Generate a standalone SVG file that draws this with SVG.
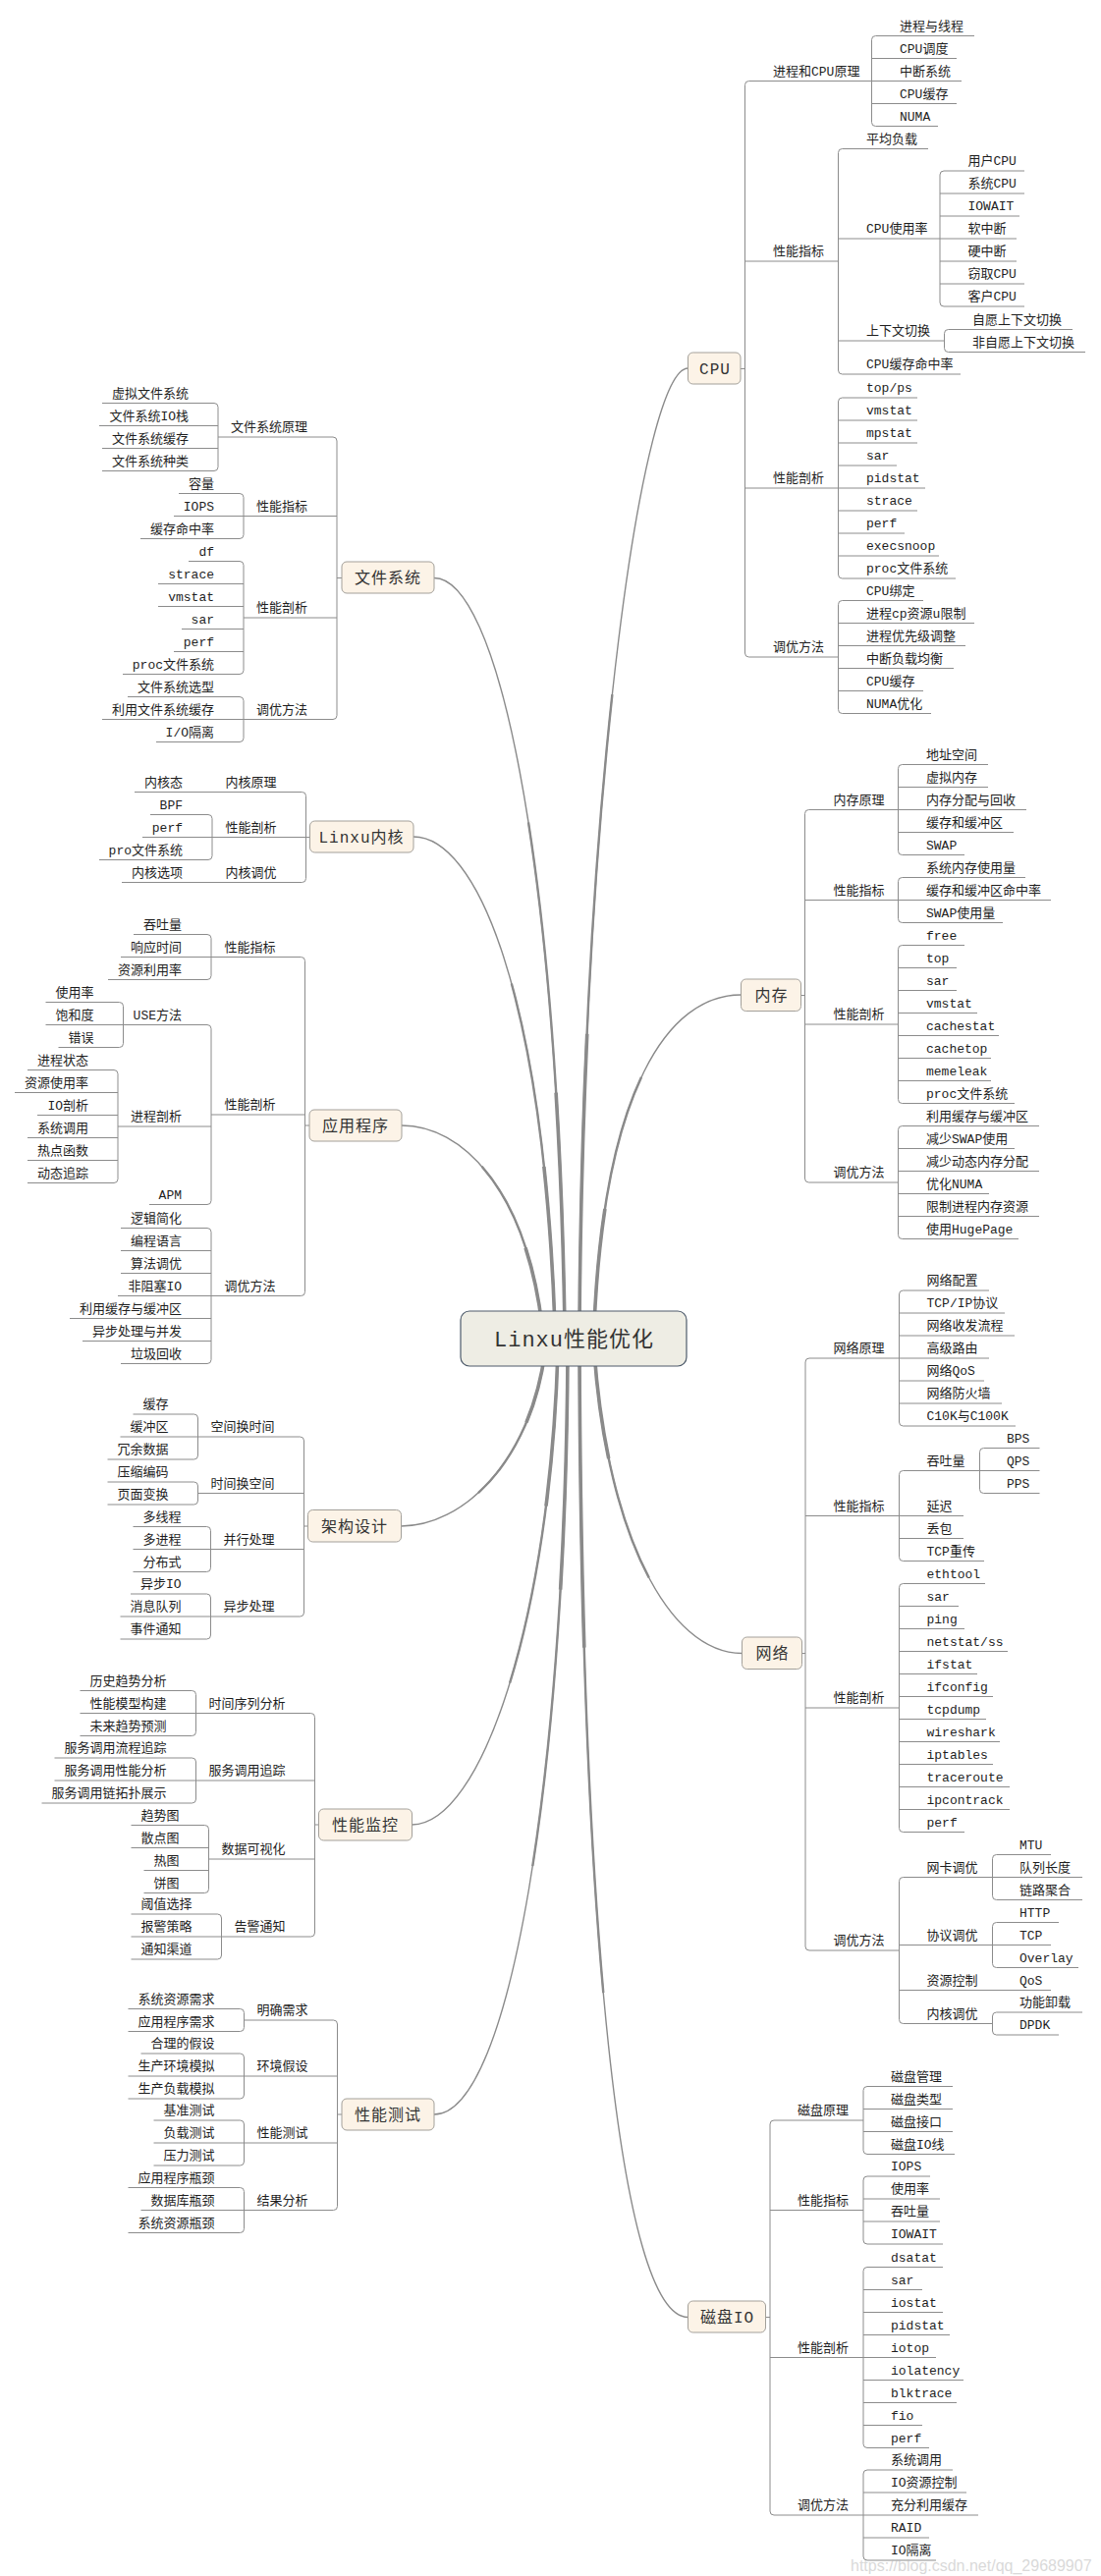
<svg xmlns="http://www.w3.org/2000/svg" width="1121" height="2623" viewBox="0 0 1121 2623">
<style>
text{font-family:"Liberation Mono","Noto Sans CJK SC",monospace;fill:#1e1e1e}
.t{font-size:13px}
.e{text-anchor:end}
.mt{font-size:16px;text-anchor:middle;letter-spacing:1px;fill:#333}
.mb{fill:#fcf3e7;stroke:#a3a09a;stroke-width:1}
.rb{fill:#eeede4;stroke:#4e5b6b;stroke-width:1.2}
.rt{font-size:22px;text-anchor:middle;letter-spacing:1px;fill:#333}
.ln{fill:none;stroke:#8c8c8c;stroke-width:1}
.cA{fill:none;stroke:#8a8a8a;stroke-width:1.4}
.cB{fill:none;stroke:#8a8a8a;stroke-width:2.4;stroke-dasharray:0 35 65}
.cC{fill:none;stroke:#8a8a8a;stroke-width:3.6;stroke-dasharray:0 70 30}
.wm{font-family:"Liberation Sans",sans-serif;font-size:16px;fill:#bbb;opacity:.55}
</style>
<defs>
<path id="cv-fs" pathLength="100" d="M 442 588.5 C 505 588.5, 567 860, 575 1350"/>
<path id="cv-kn" pathLength="100" d="M 421 852 C 485 852, 553 1010, 565 1350"/>
<path id="cv-app" pathLength="100" d="M 409 1146 C 470 1146, 535 1210, 552 1350"/>
<path id="cv-cpu" pathLength="100" d="M 700.5 375 C 655 375, 594 790, 590 1350"/>
<path id="cv-mem" pathLength="100" d="M 754.5 1013 C 680 1013, 615 1110, 605 1350"/>
<path id="cv-arch" pathLength="100" d="M 408.5 1554 C 470 1554, 540 1490, 555 1376"/>
<path id="cv-mon" pathLength="100" d="M 419.5 1858 C 490 1858, 560 1650, 568 1376"/>
<path id="cv-test" pathLength="100" d="M 442 2153 C 520 2153, 576 1800, 578 1376"/>
<path id="cv-net" pathLength="100" d="M 755.5 1683.5 C 680 1683.5, 618 1560, 605 1376"/>
<path id="cv-disk" pathLength="100" d="M 700.5 2359.5 C 630 2359.5, 592 1950, 590 1376"/>
</defs>
<rect width="1121" height="2623" fill="#fff"/>

<g id="connectors">
<g id="main-curves">
<use href="#cv-fs" class="cA"/><use href="#cv-fs" class="cB"/><use href="#cv-fs" class="cC"/>
<use href="#cv-kn" class="cA"/><use href="#cv-kn" class="cB"/><use href="#cv-kn" class="cC"/>
<use href="#cv-app" class="cA"/><use href="#cv-app" class="cB"/><use href="#cv-app" class="cC"/>
<use href="#cv-cpu" class="cA"/><use href="#cv-cpu" class="cB"/><use href="#cv-cpu" class="cC"/>
<use href="#cv-mem" class="cA"/><use href="#cv-mem" class="cB"/><use href="#cv-mem" class="cC"/>
<use href="#cv-arch" class="cA"/><use href="#cv-arch" class="cB"/><use href="#cv-arch" class="cC"/>
<use href="#cv-mon" class="cA"/><use href="#cv-mon" class="cB"/><use href="#cv-mon" class="cC"/>
<use href="#cv-test" class="cA"/><use href="#cv-test" class="cB"/><use href="#cv-test" class="cC"/>
<use href="#cv-net" class="cA"/><use href="#cv-net" class="cB"/><use href="#cv-net" class="cC"/>
<use href="#cv-disk" class="cA"/><use href="#cv-disk" class="cB"/><use href="#cv-disk" class="cC"/>
</g>
<g id="tree-lines" class="ln">
<path d="M 222 445 H 339 Q 343 445 343 449 V 728.5 Q 343 732.5 339 732.5 H 248 M 248 525.5 H 343 M 248 629 H 343 M 343 588.5 H 348"/>
<path d="M 104 410.5 H 218 Q 222 410.5 222 414.5 V 475.5 Q 222 479.5 218 479.5 H 104 M 101 433.5 H 222 M 104 456.5 H 222"/>
<path d="M 182 502.5 H 244 Q 248 502.5 248 506.5 V 544.5 Q 248 548.5 244 548.5 H 143 M 177 525.5 H 248"/>
<path d="M 192 571.5 H 244 Q 248 571.5 248 575.5 V 682.5 Q 248 686.5 244 686.5 H 125 M 161 594.5 H 248 M 161 617.5 H 248 M 185 640.5 H 248 M 177 663.5 H 248"/>
<path d="M 130 709.5 H 244 Q 248 709.5 248 713.5 V 751.5 Q 248 755.5 244 755.5 H 159 M 104 732.5 H 248"/>
<path d="M 137 806.5 H 307.5 Q 311.5 806.5 311.5 810.5 V 894.5 Q 311.5 898.5 307.5 898.5 H 124 M 216 852.5 H 315.5"/>
<path d="M 153 829.5 H 212 Q 216 829.5 216 833.5 V 871.5 Q 216 875.5 212 875.5 H 101 M 145 852.5 H 216"/>
<path d="M 215 974.5 H 306.5 Q 310.5 974.5 310.5 978.5 V 1315.5 Q 310.5 1319.5 306.5 1319.5 H 215 M 215 1135 H 310.5 M 310.5 1146 H 315"/>
<path d="M 136 951.5 H 211 Q 215 951.5 215 955.5 V 993.5 Q 215 997.5 211 997.5 H 110 M 123 974.5 H 215"/>
<path d="M 125.5 1043.5 H 211 Q 215 1043.5 215 1047.5 V 1222.5 Q 215 1226.5 211 1226.5 H 152 M 120 1147 H 215"/>
<path d="M 46.5 1020.5 H 121.5 Q 125.5 1020.5 125.5 1024.5 V 1062.5 Q 125.5 1066.5 121.5 1066.5 H 59.5 M 46.5 1043.5 H 125.5"/>
<path d="M 28 1089.5 H 116 Q 120 1089.5 120 1093.5 V 1200.5 Q 120 1204.5 116 1204.5 H 28 M 15 1112.5 H 120 M 38 1135.5 H 120 M 28 1158.5 H 120 M 28 1181.5 H 120"/>
<path d="M 123 1250.5 H 211 Q 215 1250.5 215 1254.5 V 1384.5 Q 215 1388.5 211 1388.5 H 123 M 123 1273.5 H 215 M 123 1296.5 H 215 M 120 1319.5 H 215 M 71 1342.5 H 215 M 84 1365.5 H 215"/>
<path d="M 201.5 1463 H 305.5 Q 309.5 1463 309.5 1467 V 1642 Q 309.5 1646 305.5 1646 H 214.5 M 201.5 1520.5 H 309.5 M 214.5 1577.5 H 309.5 M 309.5 1554 H 313.5"/>
<path d="M 135.5 1440 H 197.5 Q 201.5 1440 201.5 1444 V 1482 Q 201.5 1486 197.5 1486 H 109.5 M 122.5 1463 H 201.5"/>
<path d="M 109.5 1509 H 197.5 Q 201.5 1509 201.5 1513 V 1528 Q 201.5 1532 197.5 1532 H 109.5"/>
<path d="M 135.5 1554.5 H 210.5 Q 214.5 1554.5 214.5 1558.5 V 1596.5 Q 214.5 1600.5 210.5 1600.5 H 135.5 M 135.5 1577.5 H 214.5"/>
<path d="M 133 1623 H 210.5 Q 214.5 1623 214.5 1627 V 1665 Q 214.5 1669 210.5 1669 H 122.5 M 122.5 1646 H 214.5"/>
<path d="M 199.5 1744.5 H 316.5 Q 320.5 1744.5 320.5 1748.5 V 1968 Q 320.5 1972 316.5 1972 H 225.5 M 199.5 1813 H 320.5 M 212.5 1893 H 320.5 M 320.5 1858 H 324.5"/>
<path d="M 81.5 1721.5 H 195.5 Q 199.5 1721.5 199.5 1725.5 V 1763.5 Q 199.5 1767.5 195.5 1767.5 H 81.5 M 81.5 1744.5 H 199.5"/>
<path d="M 55.5 1790 H 195.5 Q 199.5 1790 199.5 1794 V 1832 Q 199.5 1836 195.5 1836 H 42.5 M 55.5 1813 H 199.5"/>
<path d="M 133.5 1858.5 H 208.5 Q 212.5 1858.5 212.5 1862.5 V 1923.5 Q 212.5 1927.5 208.5 1927.5 H 146.5 M 133.5 1881.5 H 212.5 M 146.5 1904.5 H 212.5"/>
<path d="M 133.5 1949 H 221.5 Q 225.5 1949 225.5 1953 V 1991 Q 225.5 1995 221.5 1995 H 133.5 M 133.5 1972 H 225.5"/>
<path d="M 248.5 2057 H 339.5 Q 343.5 2057 343.5 2061 V 2246.5 Q 343.5 2250.5 339.5 2250.5 H 248.5 M 248.5 2114 H 343.5 M 248.5 2182 H 343.5 M 343.5 2153 H 348"/>
<path d="M 130.5 2045.5 H 244.5 Q 248.5 2045.5 248.5 2049.5 V 2064.5 Q 248.5 2068.5 244.5 2068.5 H 130.5"/>
<path d="M 143.5 2091 H 244.5 Q 248.5 2091 248.5 2095 V 2133 Q 248.5 2137 244.5 2137 H 130.5 M 130.5 2114 H 248.5"/>
<path d="M 156.5 2159 H 244.5 Q 248.5 2159 248.5 2163 V 2201 Q 248.5 2205 244.5 2205 H 156.5 M 156.5 2182 H 248.5"/>
<path d="M 130.5 2227.5 H 244.5 Q 248.5 2227.5 248.5 2231.5 V 2269.5 Q 248.5 2273.5 244.5 2273.5 H 130.5 M 143.5 2250.5 H 248.5"/>
<path d="M 887.5 82.5 H 762.5 Q 758.5 82.5 758.5 86.5 V 665 Q 758.5 669 762.5 669 H 853.5 M 758.5 266 H 853.5 M 758.5 497 H 853.5 M 754 375.5 H 758.5"/>
<path d="M 992 36.5 H 891.5 Q 887.5 36.5 887.5 40.5 V 124.5 Q 887.5 128.5 891.5 128.5 H 955 M 887.5 59.5 H 974 M 887.5 82.5 H 979 M 887.5 105.5 H 974"/>
<path d="M 945 151.5 H 857.5 Q 853.5 151.5 853.5 155.5 V 377 Q 853.5 381 857.5 381 H 978 M 853.5 243 H 957 M 853.5 347 H 961.5"/>
<path d="M 1043 174 H 961 Q 957 174 957 178 V 308 Q 957 312 961 312 H 1043 M 957 197 H 1043 M 957 220 H 1038 M 957 243 H 1035 M 957 266 H 1035 M 957 289 H 1043"/>
<path d="M 1092 335.5 H 965.5 Q 961.5 335.5 961.5 339.5 V 354.5 Q 961.5 358.5 965.5 358.5 H 1105"/>
<path d="M 934 405 H 857.5 Q 853.5 405 853.5 409 V 585 Q 853.5 589 857.5 589 H 973 M 853.5 428 H 934 M 853.5 451 H 934 M 853.5 474 H 913 M 853.5 497 H 942 M 853.5 520 H 934 M 853.5 543 H 921 M 853.5 566 H 956"/>
<path d="M 940 611.5 H 857.5 Q 853.5 611.5 853.5 615.5 V 722.5 Q 853.5 726.5 857.5 726.5 H 948 M 853.5 634.5 H 992 M 853.5 657.5 H 983 M 853.5 680.5 H 971 M 853.5 703.5 H 940"/>
<path d="M 914.5 824.5 H 823.5 Q 819.5 824.5 819.5 828.5 V 1200 Q 819.5 1204 823.5 1204 H 914.5 M 819.5 916.5 H 914.5 M 819.5 1043 H 914.5 M 815.5 1013.5 H 819.5"/>
<path d="M 1006 778.5 H 918.5 Q 914.5 778.5 914.5 782.5 V 866.5 Q 914.5 870.5 918.5 870.5 H 982 M 914.5 801.5 H 1006 M 914.5 824.5 H 1045 M 914.5 847.5 H 1032"/>
<path d="M 1044 893.5 H 918.5 Q 914.5 893.5 914.5 897.5 V 935.5 Q 914.5 939.5 918.5 939.5 H 1021 M 914.5 916.5 H 1070"/>
<path d="M 982 962.5 H 918.5 Q 914.5 962.5 914.5 966.5 V 1119.5 Q 914.5 1123.5 918.5 1123.5 H 1033 M 914.5 985.5 H 974 M 914.5 1008.5 H 974 M 914.5 1031.5 H 995 M 914.5 1054.5 H 1017 M 914.5 1077.5 H 1009 M 914.5 1100.5 H 1009"/>
<path d="M 1058 1146.5 H 918.5 Q 914.5 1146.5 914.5 1150.5 V 1257.5 Q 914.5 1261.5 918.5 1261.5 H 1037 M 914.5 1169.5 H 1033 M 914.5 1192.5 H 1058 M 914.5 1215.5 H 1007 M 914.5 1238.5 H 1058"/>
<path d="M 915.5 1383 H 824 Q 820 1383 820 1387 V 1982 Q 820 1986 824 1986 H 915.5 M 820 1543.5 H 915.5 M 820 1739 H 915.5 M 816.5 1683.5 H 820"/>
<path d="M 1007 1314 H 919.5 Q 915.5 1314 915.5 1318 V 1448 Q 915.5 1452 919.5 1452 H 1034 M 915.5 1337 H 1023 M 915.5 1360 H 1033 M 915.5 1383 H 1007 M 915.5 1406 H 1002 M 915.5 1429 H 1020"/>
<path d="M 997.5 1497.5 H 919.5 Q 915.5 1497.5 915.5 1501.5 V 1585.5 Q 915.5 1589.5 919.5 1589.5 H 1002 M 915.5 1543.5 H 981 M 915.5 1566.5 H 981"/>
<path d="M 1058.5 1474.5 H 1001.5 Q 997.5 1474.5 997.5 1478.5 V 1516.5 Q 997.5 1520.5 1001.5 1520.5 H 1058.5 M 997.5 1497.5 H 1058.5"/>
<path d="M 1003 1612.5 H 919.5 Q 915.5 1612.5 915.5 1616.5 V 1861.5 Q 915.5 1865.5 919.5 1865.5 H 982 M 915.5 1635.5 H 976 M 915.5 1658.5 H 982 M 915.5 1681.5 H 1026 M 915.5 1704.5 H 995 M 915.5 1727.5 H 1011 M 915.5 1750.5 H 1004 M 915.5 1773.5 H 1018 M 915.5 1796.5 H 1011 M 915.5 1819.5 H 1028 M 915.5 1842.5 H 1028"/>
<path d="M 1010.5 1911.5 H 919.5 Q 915.5 1911.5 915.5 1915.5 V 2056.5 Q 915.5 2060.5 919.5 2060.5 H 1010.5 M 915.5 1980.5 H 1010.5 M 915.5 2026.5 H 1070"/>
<path d="M 1070 1888.5 H 1014.5 Q 1010.5 1888.5 1010.5 1892.5 V 1930.5 Q 1010.5 1934.5 1014.5 1934.5 H 1102 M 1010.5 1911.5 H 1102"/>
<path d="M 1078 1957.5 H 1014.5 Q 1010.5 1957.5 1010.5 1961.5 V 1999.5 Q 1010.5 2003.5 1014.5 2003.5 H 1098 M 1010.5 1980.5 H 1070"/>
<path d="M 1102 2049 H 1014.5 Q 1010.5 2049 1010.5 2053 V 2068 Q 1010.5 2072 1014.5 2072 H 1078"/>
<path d="M 879 2159 H 788 Q 784 2159 784 2163 V 2557 Q 784 2561 788 2561 H 879 M 784 2250.5 H 879 M 784 2400.5 H 879 M 779.5 2359.5 H 784"/>
<path d="M 970 2124.5 H 883 Q 879 2124.5 879 2128.5 V 2189.5 Q 879 2193.5 883 2193.5 H 972 M 879 2147.5 H 970 M 879 2170.5 H 970"/>
<path d="M 947 2216 H 883 Q 879 2216 879 2220 V 2281 Q 879 2285 883 2285 H 960 M 879 2239 H 957 M 879 2262 H 957"/>
<path d="M 960 2308.5 H 883 Q 879 2308.5 879 2312.5 V 2488.5 Q 879 2492.5 883 2492.5 H 946 M 879 2331.5 H 939 M 879 2354.5 H 960 M 879 2377.5 H 967 M 879 2400.5 H 953 M 879 2423.5 H 981 M 879 2446.5 H 974 M 879 2469.5 H 939"/>
<path d="M 970 2515 H 883 Q 879 2515 879 2519 V 2603 Q 879 2607 883 2607 H 953 M 879 2538 H 984 M 879 2561 H 996 M 879 2584 H 946"/>
</g>
</g>

<g id="m-fs"><rect class="mb" x="348" y="572" width="94" height="32" rx="5"/><text class="mt" x="395" y="594">文件系统</text></g>
<g id="fs-1"><text class="t e" x="313" y="439">文件系统原理</text></g>
<g id="fs-1-1"><text class="t e" x="192" y="404.5">虚拟文件系统</text></g>
<g id="fs-1-2"><text class="t e" x="192" y="427.5">文件系统IO栈</text></g>
<g id="fs-1-3"><text class="t e" x="192" y="450.5">文件系统缓存</text></g>
<g id="fs-1-4"><text class="t e" x="192" y="473.5">文件系统种类</text></g>
<g id="fs-2"><text class="t e" x="313" y="519.5">性能指标</text></g>
<g id="fs-2-1"><text class="t e" x="218" y="496.5">容量</text></g>
<g id="fs-2-2"><text class="t e" x="218" y="519.5">IOPS</text></g>
<g id="fs-2-3"><text class="t e" x="218" y="542.5">缓存命中率</text></g>
<g id="fs-3"><text class="t e" x="313" y="623">性能剖析</text></g>
<g id="fs-3-1"><text class="t e" x="218" y="565.5">df</text></g>
<g id="fs-3-2"><text class="t e" x="218" y="588.5">strace</text></g>
<g id="fs-3-3"><text class="t e" x="218" y="611.5">vmstat</text></g>
<g id="fs-3-4"><text class="t e" x="218" y="634.5">sar</text></g>
<g id="fs-3-5"><text class="t e" x="218" y="657.5">perf</text></g>
<g id="fs-3-6"><text class="t e" x="218" y="680.5">proc文件系统</text></g>
<g id="fs-4"><text class="t e" x="313" y="726.5">调优方法</text></g>
<g id="fs-4-1"><text class="t e" x="218" y="703.5">文件系统选型</text></g>
<g id="fs-4-2"><text class="t e" x="218" y="726.5">利用文件系统缓存</text></g>
<g id="fs-4-3"><text class="t e" x="218" y="749.5">I/O隔离</text></g>

<g id="m-kn"><rect class="mb" x="315.5" y="836" width="105.5" height="32" rx="5"/><text class="mt" x="368" y="858">Linxu内核</text></g>
<g id="kn-1"><text class="t e" x="281.5" y="800.5">内核原理</text></g>
<g id="kn-1-1"><text class="t e" x="186" y="800.5">内核态</text></g>
<g id="kn-2"><text class="t e" x="281.5" y="846.5">性能剖析</text></g>
<g id="kn-2-1"><text class="t e" x="186" y="823.5">BPF</text></g>
<g id="kn-2-2"><text class="t e" x="186" y="846.5">perf</text></g>
<g id="kn-2-3"><text class="t e" x="186" y="869.5">pro文件系统</text></g>
<g id="kn-3"><text class="t e" x="281.5" y="892.5">内核调优</text></g>
<g id="kn-3-1"><text class="t e" x="186" y="892.5">内核选项</text></g>

<g id="m-app"><rect class="mb" x="315" y="1130" width="94" height="32" rx="5"/><text class="mt" x="362" y="1152">应用程序</text></g>
<g id="app-1"><text class="t e" x="280.5" y="968.5">性能指标</text></g>
<g id="app-1-1"><text class="t e" x="185" y="945.5">吞吐量</text></g>
<g id="app-1-2"><text class="t e" x="185" y="968.5">响应时间</text></g>
<g id="app-1-3"><text class="t e" x="185" y="991.5">资源利用率</text></g>
<g id="app-2"><text class="t e" x="280.5" y="1129">性能剖析</text></g>
<g id="app-2-1"><text class="t e" x="185" y="1037.5">USE方法</text></g>
<g id="app-2-1-1"><text class="t e" x="95.5" y="1014.5">使用率</text></g>
<g id="app-2-1-2"><text class="t e" x="95.5" y="1037.5">饱和度</text></g>
<g id="app-2-1-3"><text class="t e" x="95.5" y="1060.5">错误</text></g>
<g id="app-2-2"><text class="t e" x="185" y="1141">进程剖析</text></g>
<g id="app-2-2-1"><text class="t e" x="90" y="1083.5">进程状态</text></g>
<g id="app-2-2-2"><text class="t e" x="90" y="1106.5">资源使用率</text></g>
<g id="app-2-2-3"><text class="t e" x="90" y="1129.5">IO剖析</text></g>
<g id="app-2-2-4"><text class="t e" x="90" y="1152.5">系统调用</text></g>
<g id="app-2-2-5"><text class="t e" x="90" y="1175.5">热点函数</text></g>
<g id="app-2-2-6"><text class="t e" x="90" y="1198.5">动态追踪</text></g>
<g id="app-2-3"><text class="t e" x="185" y="1220.5">APM</text></g>
<g id="app-3"><text class="t e" x="280.5" y="1313.5">调优方法</text></g>
<g id="app-3-1"><text class="t e" x="185" y="1244.5">逻辑简化</text></g>
<g id="app-3-2"><text class="t e" x="185" y="1267.5">编程语言</text></g>
<g id="app-3-3"><text class="t e" x="185" y="1290.5">算法调优</text></g>
<g id="app-3-4"><text class="t e" x="185" y="1313.5">非阻塞IO</text></g>
<g id="app-3-5"><text class="t e" x="185" y="1336.5">利用缓存与缓冲区</text></g>
<g id="app-3-6"><text class="t e" x="185" y="1359.5">异步处理与并发</text></g>
<g id="app-3-7"><text class="t e" x="185" y="1382.5">垃圾回收</text></g>

<g id="m-arch"><rect class="mb" x="313.5" y="1537.5" width="95" height="32.5" rx="5"/><text class="mt" x="361" y="1559.5">架构设计</text></g>
<g id="arch-1"><text class="t e" x="279.5" y="1457">空间换时间</text></g>
<g id="arch-1-1"><text class="t e" x="171.5" y="1434">缓存</text></g>
<g id="arch-1-2"><text class="t e" x="171.5" y="1457">缓冲区</text></g>
<g id="arch-1-3"><text class="t e" x="171.5" y="1480">冗余数据</text></g>
<g id="arch-2"><text class="t e" x="279.5" y="1514.5">时间换空间</text></g>
<g id="arch-2-1"><text class="t e" x="171.5" y="1503">压缩编码</text></g>
<g id="arch-2-2"><text class="t e" x="171.5" y="1526">页面变换</text></g>
<g id="arch-3"><text class="t e" x="279.5" y="1571.5">并行处理</text></g>
<g id="arch-3-1"><text class="t e" x="184.5" y="1548.5">多线程</text></g>
<g id="arch-3-2"><text class="t e" x="184.5" y="1571.5">多进程</text></g>
<g id="arch-3-3"><text class="t e" x="184.5" y="1594.5">分布式</text></g>
<g id="arch-4"><text class="t e" x="279.5" y="1640">异步处理</text></g>
<g id="arch-4-1"><text class="t e" x="184.5" y="1617">异步IO</text></g>
<g id="arch-4-2"><text class="t e" x="184.5" y="1640">消息队列</text></g>
<g id="arch-4-3"><text class="t e" x="184.5" y="1663">事件通知</text></g>

<g id="m-mon"><rect class="mb" x="324.5" y="1842" width="95" height="32" rx="5"/><text class="mt" x="372" y="1864">性能监控</text></g>
<g id="mon-1"><text class="t e" x="290.5" y="1738.5">时间序列分析</text></g>
<g id="mon-1-1"><text class="t e" x="169.5" y="1715.5">历史趋势分析</text></g>
<g id="mon-1-2"><text class="t e" x="169.5" y="1738.5">性能模型构建</text></g>
<g id="mon-1-3"><text class="t e" x="169.5" y="1761.5">未来趋势预测</text></g>
<g id="mon-2"><text class="t e" x="290.5" y="1807">服务调用追踪</text></g>
<g id="mon-2-1"><text class="t e" x="169.5" y="1784">服务调用流程追踪</text></g>
<g id="mon-2-2"><text class="t e" x="169.5" y="1807">服务调用性能分析</text></g>
<g id="mon-2-3"><text class="t e" x="169.5" y="1830">服务调用链拓扑展示</text></g>
<g id="mon-3"><text class="t e" x="290.5" y="1887">数据可视化</text></g>
<g id="mon-3-1"><text class="t e" x="182.5" y="1852.5">趋势图</text></g>
<g id="mon-3-2"><text class="t e" x="182.5" y="1875.5">散点图</text></g>
<g id="mon-3-3"><text class="t e" x="182.5" y="1898.5">热图</text></g>
<g id="mon-3-4"><text class="t e" x="182.5" y="1921.5">饼图</text></g>
<g id="mon-4"><text class="t e" x="290.5" y="1966">告警通知</text></g>
<g id="mon-4-1"><text class="t e" x="195.5" y="1943">阈值选择</text></g>
<g id="mon-4-2"><text class="t e" x="195.5" y="1966">报警策略</text></g>
<g id="mon-4-3"><text class="t e" x="195.5" y="1989">通知渠道</text></g>

<g id="m-test"><rect class="mb" x="348" y="2137" width="94" height="32" rx="5"/><text class="mt" x="395" y="2159">性能测试</text></g>
<g id="test-1"><text class="t e" x="313.5" y="2051">明确需求</text></g>
<g id="test-1-1"><text class="t e" x="218.5" y="2039.5">系统资源需求</text></g>
<g id="test-1-2"><text class="t e" x="218.5" y="2062.5">应用程序需求</text></g>
<g id="test-2"><text class="t e" x="313.5" y="2108">环境假设</text></g>
<g id="test-2-1"><text class="t e" x="218.5" y="2085">合理的假设</text></g>
<g id="test-2-2"><text class="t e" x="218.5" y="2108">生产环境模拟</text></g>
<g id="test-2-3"><text class="t e" x="218.5" y="2131">生产负载模拟</text></g>
<g id="test-3"><text class="t e" x="313.5" y="2176">性能测试</text></g>
<g id="test-3-1"><text class="t e" x="218.5" y="2153">基准测试</text></g>
<g id="test-3-2"><text class="t e" x="218.5" y="2176">负载测试</text></g>
<g id="test-3-3"><text class="t e" x="218.5" y="2199">压力测试</text></g>
<g id="test-4"><text class="t e" x="313.5" y="2244.5">结果分析</text></g>
<g id="test-4-1"><text class="t e" x="218.5" y="2221.5">应用程序瓶颈</text></g>
<g id="test-4-2"><text class="t e" x="218.5" y="2244.5">数据库瓶颈</text></g>
<g id="test-4-3"><text class="t e" x="218.5" y="2267.5">系统资源瓶颈</text></g>

<g id="m-cpu"><rect class="mb" x="700.5" y="359" width="53.5" height="32" rx="5"/><text class="mt" x="728" y="381">CPU</text></g>
<g id="cpu-1"><text class="t" x="787" y="76.5">进程和CPU原理</text></g>
<g id="cpu-1-1"><text class="t" x="916" y="30.5">进程与线程</text></g>
<g id="cpu-1-2"><text class="t" x="916" y="53.5">CPU调度</text></g>
<g id="cpu-1-3"><text class="t" x="916" y="76.5">中断系统</text></g>
<g id="cpu-1-4"><text class="t" x="916" y="99.5">CPU缓存</text></g>
<g id="cpu-1-5"><text class="t" x="916" y="122.5">NUMA</text></g>
<g id="cpu-2"><text class="t" x="787" y="260">性能指标</text></g>
<g id="cpu-2-1"><text class="t" x="882" y="145.5">平均负载</text></g>
<g id="cpu-2-2"><text class="t" x="882" y="237">CPU使用率</text></g>
<g id="cpu-2-2-1"><text class="t" x="985.5" y="168">用户CPU</text></g>
<g id="cpu-2-2-2"><text class="t" x="985.5" y="191">系统CPU</text></g>
<g id="cpu-2-2-3"><text class="t" x="985.5" y="214">IOWAIT</text></g>
<g id="cpu-2-2-4"><text class="t" x="985.5" y="237">软中断</text></g>
<g id="cpu-2-2-5"><text class="t" x="985.5" y="260">硬中断</text></g>
<g id="cpu-2-2-6"><text class="t" x="985.5" y="283">窃取CPU</text></g>
<g id="cpu-2-2-7"><text class="t" x="985.5" y="306">客户CPU</text></g>
<g id="cpu-2-3"><text class="t" x="882" y="341">上下文切换</text></g>
<g id="cpu-2-3-1"><text class="t" x="990" y="329.5">自愿上下文切换</text></g>
<g id="cpu-2-3-2"><text class="t" x="990" y="352.5">非自愿上下文切换</text></g>
<g id="cpu-2-4"><text class="t" x="882" y="375">CPU缓存命中率</text></g>
<g id="cpu-3"><text class="t" x="787" y="491">性能剖析</text></g>
<g id="cpu-3-1"><text class="t" x="882" y="399">top/ps</text></g>
<g id="cpu-3-2"><text class="t" x="882" y="422">vmstat</text></g>
<g id="cpu-3-3"><text class="t" x="882" y="445">mpstat</text></g>
<g id="cpu-3-4"><text class="t" x="882" y="468">sar</text></g>
<g id="cpu-3-5"><text class="t" x="882" y="491">pidstat</text></g>
<g id="cpu-3-6"><text class="t" x="882" y="514">strace</text></g>
<g id="cpu-3-7"><text class="t" x="882" y="537">perf</text></g>
<g id="cpu-3-8"><text class="t" x="882" y="560">execsnoop</text></g>
<g id="cpu-3-9"><text class="t" x="882" y="583">proc文件系统</text></g>
<g id="cpu-4"><text class="t" x="787" y="663">调优方法</text></g>
<g id="cpu-4-1"><text class="t" x="882" y="605.5">CPU绑定</text></g>
<g id="cpu-4-2"><text class="t" x="882" y="628.5">进程cp资源u限制</text></g>
<g id="cpu-4-3"><text class="t" x="882" y="651.5">进程优先级调整</text></g>
<g id="cpu-4-4"><text class="t" x="882" y="674.5">中断负载均衡</text></g>
<g id="cpu-4-5"><text class="t" x="882" y="697.5">CPU缓存</text></g>
<g id="cpu-4-6"><text class="t" x="882" y="720.5">NUMA优化</text></g>

<g id="m-mem"><rect class="mb" x="754.5" y="997" width="61" height="32.5" rx="5"/><text class="mt" x="785.5" y="1019">内存</text></g>
<g id="mem-1"><text class="t" x="848.5" y="818.5">内存原理</text></g>
<g id="mem-1-1"><text class="t" x="943" y="772.5">地址空间</text></g>
<g id="mem-1-2"><text class="t" x="943" y="795.5">虚拟内存</text></g>
<g id="mem-1-3"><text class="t" x="943" y="818.5">内存分配与回收</text></g>
<g id="mem-1-4"><text class="t" x="943" y="841.5">缓存和缓冲区</text></g>
<g id="mem-1-5"><text class="t" x="943" y="864.5">SWAP</text></g>
<g id="mem-2"><text class="t" x="848.5" y="910.5">性能指标</text></g>
<g id="mem-2-1"><text class="t" x="943" y="887.5">系统内存使用量</text></g>
<g id="mem-2-2"><text class="t" x="943" y="910.5">缓存和缓冲区命中率</text></g>
<g id="mem-2-3"><text class="t" x="943" y="933.5">SWAP使用量</text></g>
<g id="mem-3"><text class="t" x="848.5" y="1037">性能剖析</text></g>
<g id="mem-3-1"><text class="t" x="943" y="956.5">free</text></g>
<g id="mem-3-2"><text class="t" x="943" y="979.5">top</text></g>
<g id="mem-3-3"><text class="t" x="943" y="1002.5">sar</text></g>
<g id="mem-3-4"><text class="t" x="943" y="1025.5">vmstat</text></g>
<g id="mem-3-5"><text class="t" x="943" y="1048.5">cachestat</text></g>
<g id="mem-3-6"><text class="t" x="943" y="1071.5">cachetop</text></g>
<g id="mem-3-7"><text class="t" x="943" y="1094.5">memeleak</text></g>
<g id="mem-3-8"><text class="t" x="943" y="1117.5">proc文件系统</text></g>
<g id="mem-4"><text class="t" x="848.5" y="1198">调优方法</text></g>
<g id="mem-4-1"><text class="t" x="943" y="1140.5">利用缓存与缓冲区</text></g>
<g id="mem-4-2"><text class="t" x="943" y="1163.5">减少SWAP使用</text></g>
<g id="mem-4-3"><text class="t" x="943" y="1186.5">减少动态内存分配</text></g>
<g id="mem-4-4"><text class="t" x="943" y="1209.5">优化NUMA</text></g>
<g id="mem-4-5"><text class="t" x="943" y="1232.5">限制进程内存资源</text></g>
<g id="mem-4-6"><text class="t" x="943" y="1255.5">使用HugePage</text></g>

<g id="m-net"><rect class="mb" x="755.5" y="1667" width="61" height="32.5" rx="5"/><text class="mt" x="786.5" y="1689">网络</text></g>
<g id="net-1"><text class="t" x="848.5" y="1377">网络原理</text></g>
<g id="net-1-1"><text class="t" x="943.5" y="1308">网络配置</text></g>
<g id="net-1-2"><text class="t" x="943.5" y="1331">TCP/IP协议</text></g>
<g id="net-1-3"><text class="t" x="943.5" y="1354">网络收发流程</text></g>
<g id="net-1-4"><text class="t" x="943.5" y="1377">高级路由</text></g>
<g id="net-1-5"><text class="t" x="943.5" y="1400">网络QoS</text></g>
<g id="net-1-6"><text class="t" x="943.5" y="1423">网络防火墙</text></g>
<g id="net-1-7"><text class="t" x="943.5" y="1446">C10K与C100K</text></g>
<g id="net-2"><text class="t" x="848.5" y="1537.5">性能指标</text></g>
<g id="net-2-1"><text class="t" x="943.5" y="1491.5">吞吐量</text></g>
<g id="net-2-1-1"><text class="t" x="1025" y="1468.5">BPS</text></g>
<g id="net-2-1-2"><text class="t" x="1025" y="1491.5">QPS</text></g>
<g id="net-2-1-3"><text class="t" x="1025" y="1514.5">PPS</text></g>
<g id="net-2-2"><text class="t" x="943.5" y="1537.5">延迟</text></g>
<g id="net-2-3"><text class="t" x="943.5" y="1560.5">丢包</text></g>
<g id="net-2-4"><text class="t" x="943.5" y="1583.5">TCP重传</text></g>
<g id="net-3"><text class="t" x="848.5" y="1733">性能剖析</text></g>
<g id="net-3-1"><text class="t" x="943.5" y="1606.5">ethtool</text></g>
<g id="net-3-2"><text class="t" x="943.5" y="1629.5">sar</text></g>
<g id="net-3-3"><text class="t" x="943.5" y="1652.5">ping</text></g>
<g id="net-3-4"><text class="t" x="943.5" y="1675.5">netstat/ss</text></g>
<g id="net-3-5"><text class="t" x="943.5" y="1698.5">ifstat</text></g>
<g id="net-3-6"><text class="t" x="943.5" y="1721.5">ifconfig</text></g>
<g id="net-3-7"><text class="t" x="943.5" y="1744.5">tcpdump</text></g>
<g id="net-3-8"><text class="t" x="943.5" y="1767.5">wireshark</text></g>
<g id="net-3-9"><text class="t" x="943.5" y="1790.5">iptables</text></g>
<g id="net-3-10"><text class="t" x="943.5" y="1813.5">traceroute</text></g>
<g id="net-3-11"><text class="t" x="943.5" y="1836.5">ipcontrack</text></g>
<g id="net-3-12"><text class="t" x="943.5" y="1859.5">perf</text></g>
<g id="net-4"><text class="t" x="848.5" y="1980">调优方法</text></g>
<g id="net-4-1"><text class="t" x="943.5" y="1905.5">网卡调优</text></g>
<g id="net-4-1-1"><text class="t" x="1038" y="1882.5">MTU</text></g>
<g id="net-4-1-2"><text class="t" x="1038" y="1905.5">队列长度</text></g>
<g id="net-4-1-3"><text class="t" x="1038" y="1928.5">链路聚合</text></g>
<g id="net-4-2"><text class="t" x="943.5" y="1974.5">协议调优</text></g>
<g id="net-4-2-1"><text class="t" x="1038" y="1951.5">HTTP</text></g>
<g id="net-4-2-2"><text class="t" x="1038" y="1974.5">TCP</text></g>
<g id="net-4-2-3"><text class="t" x="1038" y="1997.5">Overlay</text></g>
<g id="net-4-3"><text class="t" x="943.5" y="2020.5">资源控制</text></g>
<g id="net-4-3-1"><text class="t" x="1038" y="2020.5">QoS</text></g>
<g id="net-4-4"><text class="t" x="943.5" y="2054.5">内核调优</text></g>
<g id="net-4-4-1"><text class="t" x="1038" y="2043">功能卸载</text></g>
<g id="net-4-4-2"><text class="t" x="1038" y="2066">DPDK</text></g>

<g id="m-disk"><rect class="mb" x="700.5" y="2343" width="79" height="32" rx="5"/><text class="mt" x="740.5" y="2365">磁盘IO</text></g>
<g id="disk-1"><text class="t" x="812" y="2153">磁盘原理</text></g>
<g id="disk-1-1"><text class="t" x="907" y="2118.5">磁盘管理</text></g>
<g id="disk-1-2"><text class="t" x="907" y="2141.5">磁盘类型</text></g>
<g id="disk-1-3"><text class="t" x="907" y="2164.5">磁盘接口</text></g>
<g id="disk-1-4"><text class="t" x="907" y="2187.5">磁盘IO线</text></g>
<g id="disk-2"><text class="t" x="812" y="2244.5">性能指标</text></g>
<g id="disk-2-1"><text class="t" x="907" y="2210">IOPS</text></g>
<g id="disk-2-2"><text class="t" x="907" y="2233">使用率</text></g>
<g id="disk-2-3"><text class="t" x="907" y="2256">吞吐量</text></g>
<g id="disk-2-4"><text class="t" x="907" y="2279">IOWAIT</text></g>
<g id="disk-3"><text class="t" x="812" y="2394.5">性能剖析</text></g>
<g id="disk-3-1"><text class="t" x="907" y="2302.5">dsatat</text></g>
<g id="disk-3-2"><text class="t" x="907" y="2325.5">sar</text></g>
<g id="disk-3-3"><text class="t" x="907" y="2348.5">iostat</text></g>
<g id="disk-3-4"><text class="t" x="907" y="2371.5">pidstat</text></g>
<g id="disk-3-5"><text class="t" x="907" y="2394.5">iotop</text></g>
<g id="disk-3-6"><text class="t" x="907" y="2417.5">iolatency</text></g>
<g id="disk-3-7"><text class="t" x="907" y="2440.5">blktrace</text></g>
<g id="disk-3-8"><text class="t" x="907" y="2463.5">fio</text></g>
<g id="disk-3-9"><text class="t" x="907" y="2486.5">perf</text></g>
<g id="disk-4"><text class="t" x="812" y="2555">调优方法</text></g>
<g id="disk-4-1"><text class="t" x="907" y="2509">系统调用</text></g>
<g id="disk-4-2"><text class="t" x="907" y="2532">IO资源控制</text></g>
<g id="disk-4-3"><text class="t" x="907" y="2555">充分利用缓存</text></g>
<g id="disk-4-4"><text class="t" x="907" y="2578">RAID</text></g>
<g id="disk-4-5"><text class="t" x="907" y="2601">IO隔离</text></g>

<g id="root"><rect class="rb" x="469" y="1335" width="230" height="56" rx="9"/><text class="rt" x="584.5" y="1371">Linxu性能优化</text></g>

<text class="wm" x="866" y="2618">https://blog.csdn.net/qq_29689907</text>
</svg>
